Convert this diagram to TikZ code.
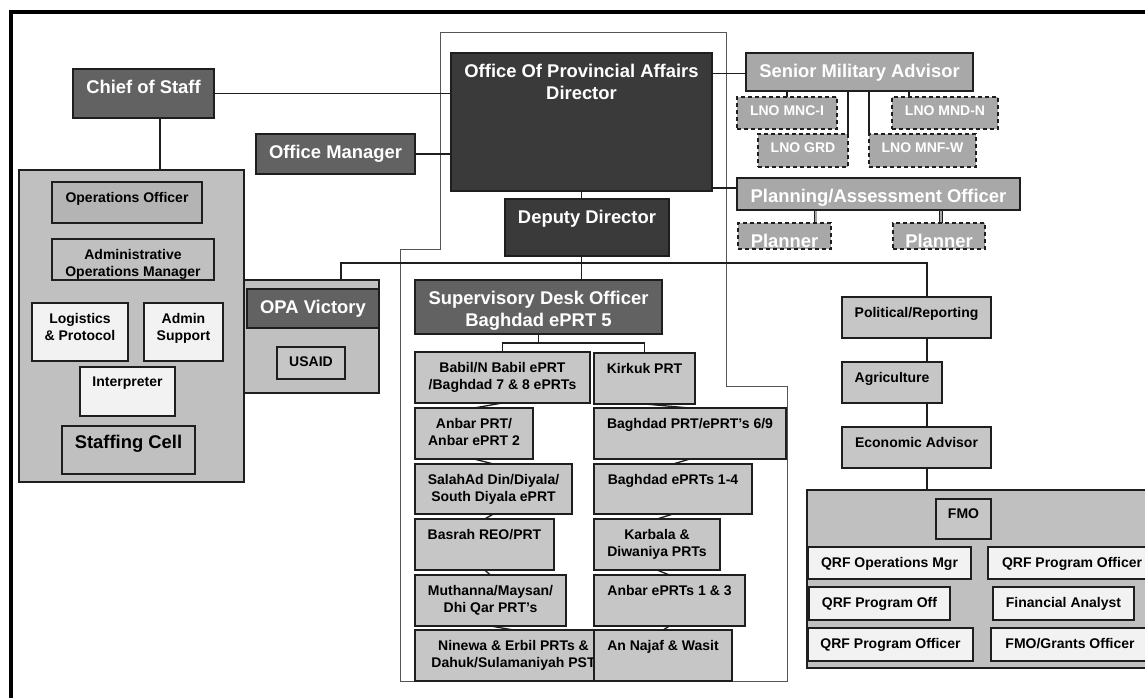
\documentclass[tikz,border=0pt]{standalone}
\usepackage{fontspec}
\setmainfont{Liberation Sans}
\usetikzlibrary{backgrounds}

\definecolor{edge}{HTML}{1E1E1E}
\definecolor{boxdark}{HTML}{626262}
\definecolor{boxxdark}{HTML}{3A3A3A}
\definecolor{boxmid}{HTML}{A8A8A8}
\definecolor{panelgray}{HTML}{C0C0C0}
\definecolor{cellgray}{HTML}{C6C6C6}
\definecolor{opsgray}{HTML}{B4B4B4}
\definecolor{paper}{HTML}{F2F2F2}
\definecolor{outline}{HTML}{555555}

\newcommand\bigfont{\fontsize{18.4}{21.5}\selectfont\bfseries}
\newcommand\smallfont{\fontsize{14}{17}\selectfont\bfseries}

% box with its label set near the top edge:
% #1 box style, #2 label style, #3 name, #4 x1, #5 y1, #6 x2, #7 y2, #8 label
\newcommand\orgbox[8]{%
  \node[#1, anchor=north west, minimum width={(#6)-(#4)}, minimum height={(#7)-(#5)}] (#3) at (#4,#5) {};
  \node[#2] (#3-t) at (#3.north) {#8};
}

\tikzset{
  basebox/.style={rectangle, draw=edge, line width=1.3pt, inner sep=0pt, outer sep=0pt},
  darkbox/.style={basebox, fill=boxdark},
  xdarkbox/.style={basebox, fill=boxxdark},
  midbox/.style={basebox, fill=boxmid},
  lnobox/.style={basebox, fill=boxmid, dash pattern=on 4pt off 3pt},
  panelbox/.style={basebox, fill=panelgray},
  cellbox/.style={basebox, fill=cellgray},
  opsbox/.style={basebox, fill=opsgray},
  whitebox/.style={basebox, fill=paper},
  bigw/.style={anchor=north, yshift=-11pt, align=center, inner sep=0pt, font=\bigfont, text=white},
  bigk/.style={anchor=north, yshift=-9pt, align=center, inner sep=0pt, font=\bigfont, text=black},
  smallw/.style={anchor=north, yshift=-9pt, align=center, inner sep=0pt, font=\smallfont, text=white},
  smallk/.style={anchor=north, yshift=-10pt, align=center, inner sep=0pt, font=\smallfont, text=black},
  conn/.style={draw=edge, line width=1.3pt},
  dblconn/.style={draw=edge, line width=0.8pt, double=boxmid, double distance=2pt},
  frameline/.style={draw=outline, line width=1pt},
}

\begin{document}
\begin{tikzpicture}[x=1pt, y=-1pt]
\useasboundingbox (0,0) rectangle (1145,698);

% ---- directorate ----
\orgbox{darkbox}{bigw}{chief}{73}{69}{214}{118}{Chief of Staff}
\orgbox{darkbox}{bigw}{offmgr}{256}{134}{415}{174}{Office Manager}
\orgbox{xdarkbox}{bigw}{dir}{451}{53}{712}{191}{Office Of Provincial Affairs\\Director}
\orgbox{xdarkbox}{bigw}{dep}{505}{199}{669}{256}{Deputy Director}

% ---- military liaison and planning ----
\orgbox{midbox}{bigw}{sma}{746}{53}{973}{91}{Senior Military Advisor}
\orgbox{lnobox}{smallw}{mnci}{737}{97}{837}{129}{LNO MNC-I}
\orgbox{lnobox}{smallw}{grd}{758}{134}{848}{167}{LNO GRD}
\orgbox{lnobox}{smallw}{mndn}{892}{97}{998}{129}{LNO MND-N}
\orgbox{lnobox}{smallw}{mnfw}{869}{134}{976}{167}{LNO MNF-W}
\orgbox{midbox}{bigw}{pao}{737}{178}{1020}{210}{Planning/Assessment Officer}
\orgbox{lnobox}{bigw}{plA}{738}{223}{831}{249}{Planner}
\orgbox{lnobox}{bigw}{plB}{893}{223}{985}{249}{Planner}

% ---- staff panel ----
\node[panelbox, anchor=north west, minimum width=225, minimum height=312] (lpanel) at (19,170) {};
\orgbox{opsbox}{smallk}{opso}{52}{182}{202}{223}{Operations Officer}
\orgbox{panelbox}{smallk}{aom}{52}{239}{214}{280}{Administrative\\Operations Manager}
\orgbox{whitebox}{smallk}{logi}{32}{303}{128}{361}{Logistics\\\& Protocol}
\orgbox{whitebox}{smallk}{adms}{144}{303}{223}{361}{Admin\\Support}
\orgbox{whitebox}{smallk}{interp}{80}{367}{175}{416}{Interpreter}
\orgbox{panelbox}{bigk}{staff}{62}{426}{195}{474}{Staffing Cell}

% ---- OPA Victory panel ----
\node[panelbox, anchor=north west, minimum width=135, minimum height=113] (opap) at (244,280) {};
\orgbox{darkbox}{bigw}{opav}{247}{289}{379}{328}{OPA Victory}
\orgbox{cellbox}{smallk}{usaid}{277}{347}{345}{379}{USAID}

% ---- provincial desks ----
\orgbox{darkbox}{bigw}{sdo}{415}{280}{662}{334}{Supervisory Desk Officer\\Baghdad ePRT 5}
\orgbox{cellbox}{smallk}{babil}{415}{352}{590}{403}{Babil/N Babil ePRT\\/Baghdad 7 \& 8 ePRTs}
\orgbox{cellbox}{smallk}{anbar}{415}{408}{533}{459}{Anbar PRT/\\Anbar ePRT 2}
\orgbox{cellbox}{smallk}{salah}{415}{464}{572}{514}{SalahAd Din/Diyala/\\South Diyala ePRT}
\orgbox{cellbox}{smallk}{basrah}{415}{519}{554}{570}{Basrah REO/PRT}
\orgbox{cellbox}{smallk}{muth}{415}{575}{566}{626}{Muthanna/Maysan/\\Dhi Qar PRT’s}
\orgbox{cellbox}{smallk}{ninewa}{415}{630}{612}{681}{Ninewa \& Erbil PRTs \&\\Dahuk/Sulamaniyah PST}
\orgbox{cellbox}{smallk}{kirkuk}{594}{353}{695}{404}{Kirkuk PRT}
\orgbox{cellbox}{smallk}{bagprt}{594}{408}{786}{459}{Baghdad PRT/ePRT’s 6/9}
\orgbox{cellbox}{smallk}{bageprt}{594}{464}{752}{514}{Baghdad ePRTs 1-4}
\orgbox{cellbox}{smallk}{karb}{594}{519}{720}{570}{Karbala \&\\Diwaniya PRTs}
\orgbox{cellbox}{smallk}{anbare}{594}{575}{745}{626}{Anbar ePRTs 1 \& 3}
\orgbox{cellbox}{smallk}{najaf}{594}{630}{732}{681}{An Najaf \& Wasit}

% ---- advisors and FMO ----
\orgbox{cellbox}{smallk}{pol}{842}{297}{991}{338}{Political/Reporting}
\orgbox{cellbox}{smallk}{agr}{842}{362}{942}{403}{Agriculture}
\orgbox{cellbox}{smallk}{eco}{842}{427}{991}{468}{Economic Advisor}
\node[panelbox, anchor=north west, minimum width=360, minimum height=178] (fmop) at (807,490) {};
\orgbox{cellbox}{smallk}{fmo}{936}{499}{991}{539}{FMO}
\orgbox{whitebox}{smallk}{qops}{808}{547}{971}{579}{QRF Operations Mgr}
\orgbox{whitebox}{smallk}{qpoA}{988}{547}{1156}{579}{QRF Program Officer}
\orgbox{whitebox}{smallk}{qpoff}{809}{587}{950}{620}{QRF Program Off}
\orgbox{whitebox}{smallk}{fan}{993}{587}{1134}{620}{Financial Analyst}
\orgbox{whitebox}{smallk}{qpoB}{808}{628}{973}{661}{QRF Program Officer}
\orgbox{whitebox}{smallk}{fgo}{991}{628}{1149}{661}{FMO/Grants Officer}

% ---- connectors and outlines, behind the boxes ----
\coordinate (busL) at (341,263);
\coordinate (busR) at (927,263);
\coordinate (sbar) at (538.5,343);
\coordinate (fbar) at (963.5,543);
\begin{pgfonlayer}{background}
  \fill[white] (0,0) rectangle (1145,698);
  % page frame
  \draw[line width=4pt, draw=black] (10.5,720) -- (10.5,12) -- (1170,12);
  % directorate outline
  \draw[frameline] (440,33) -- (726,33) -- (726,386) -- (787,386) -- (787,681)
        -- (400,681) -- (400,249) -- (440,249) -- cycle;
  \draw[conn] (chief.east) -- (chief.east -| dir.west);
  \draw[conn] (offmgr.east) -- (offmgr.east -| dir.west);
  \draw[conn] ([yshift=-20.5pt]dir.north east) -- ([yshift=-20.5pt]dir.north east -| sma.west);
  \draw[conn] ([yshift=6pt]pao.west) -- ([yshift=6pt]pao.west -| dir.east);
  \draw[conn] (dir.south) -- (dir.south |- sdo.north);
  % SMA liaisons
  \draw[conn] (mnci.north) -- (mnci.north |- sma.south);
  \draw[conn] (grd.north east) -- (grd.north east |- sma.south);
  \draw[conn] (mnfw.north west) -- (mnfw.north west |- sma.south);
  \draw[conn] ([xshift=-36pt]mndn.north) -- ([xshift=-36pt]mndn.north |- sma.south);
  % planners
  \draw[dblconn] ([xshift=31pt]plA.north) -- ([xshift=31pt]plA.north |- pao.south);
  \draw[dblconn] ([xshift=2pt]plB.north) -- ([xshift=2pt]plB.north |- pao.south);
  % staff
  \draw[conn] ([xshift=16.5pt]chief.south) -- ([xshift=16.5pt]chief.south |- lpanel.north);
  \draw[conn] ([xshift=17pt]logi.north) -- ([xshift=17pt]logi.north |- aom.south);
  \draw[conn] ([xshift=-9.5pt]adms.north) -- ([xshift=-9.5pt]adms.north |- aom.south);
  % main bus
  \draw[conn] (opap.north -| busL) -- (busL) -- (busR) -- (busR |- fmop.north);
  % desks
  \draw[conn] (sdo.south) -- (sdo.south |- sbar);
  \draw[conn] (babil.north) -- (babil.north |- sbar) -- (kirkuk.north |- sbar) -- (kirkuk.north);
  \draw[conn] (babil.south) -- (anbar.north);
  \draw[conn] (anbar.south) -- (salah.north);
  \draw[conn] (salah.south) -- (basrah.north);
  \draw[conn] (basrah.south) -- (muth.north);
  \draw[conn] (muth.south) -- (ninewa.north);
  \draw[conn] (kirkuk.south) -- (bagprt.north);
  \draw[conn] (bagprt.south) -- (bageprt.north);
  \draw[conn] (bageprt.south) -- (karb.north);
  \draw[conn] (karb.south) -- (anbare.north);
  \draw[conn] (anbare.south) -- (najaf.north);
  % FMO
  \draw[conn, line width=1pt] (fmo.south) rectangle ([xshift=10.5pt]fmo.south |- fbar);
  \draw[conn] (qops.north) -- (qops.north |- fbar) -- (qpoA.north |- fbar) -- (qpoA.north);
  \draw[conn] (qops.south) -- (qpoff.north);
  \draw[conn] (qpoff.south) -- (qpoB.north);
  \draw[conn] (qpoA.south) -- (fan.north);
  \draw[conn] (fan.south) -- (fgo.north);
\end{pgfonlayer}
\end{tikzpicture}
\end{document}
